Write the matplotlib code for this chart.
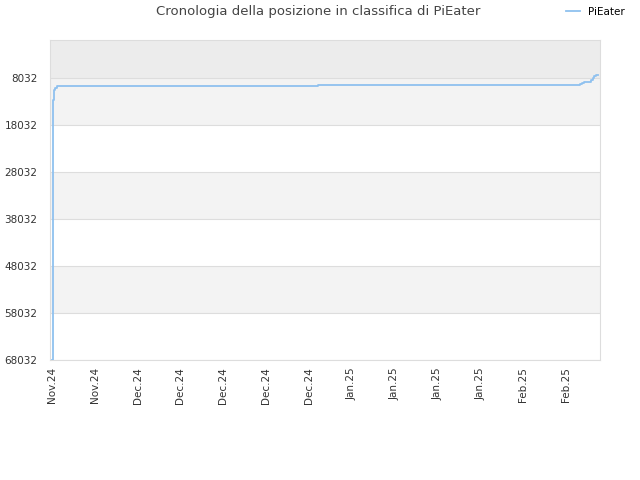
import matplotlib
matplotlib.use("Agg")
import matplotlib.pyplot as plt
import matplotlib.dates as mdates
import numpy as np
from datetime import datetime

# data (rank, lower is better)
dates = ["2024-11-17 00:00", "2024-11-17 04:00", "2024-11-17 08:00",
         "2024-11-17 12:00", "2024-11-17 19:00", "2024-12-30 12:00",
         "2025-02-11 07:00", "2025-02-11 14:00", "2025-02-11 22:00",
         "2025-02-13 02:00", "2025-02-13 10:00", "2025-02-13 14:00",
         "2025-02-13 22:00", "2025-02-14 05:00"]
ranks = [68032, 12700, 10600, 10100, 9700, 9420,
         9300, 9100, 8880, 8560, 8140, 7600, 7400, 7400]
yticks = [8032, 18032, 28032, 38032, 48032, 58032, 68032]
gray_bands = [(8032, 18032), (28032, 38032), (48032, 58032)]

x = [datetime.strptime(d, "%Y-%m-%d %H:%M") for d in dates]

fig = plt.figure(figsize=(6.4, 4.8), dpi=100)
ax = fig.add_axes([50/640, 120/480, 550/640, 320/480])

# background bands
ax.axhspan(-50, 8032, color="#ececec", zorder=0, lw=0)
for lo, hi in gray_bands:
    ax.axhspan(lo, hi, color="#f3f3f3", zorder=0, lw=0)

line, = ax.plot(x, ranks, drawstyle="steps-post", color="#8fc1ef", lw=1.3,
                label="PiEater", zorder=3)

ax.set_ylim(68032, -50)
ax.set_yticks(yticks)
ax.set_yticklabels([str(v) for v in yticks])
ax.yaxis.grid(True, color="#dddddd", lw=0.8)
ax.set_axisbelow(True)

ax.set_xlim(datetime(2024, 11, 16, 17), datetime(2025, 2, 14, 12))
ax.xaxis.set_major_locator(mdates.WeekdayLocator(byweekday=mdates.SU))
ax.xaxis.set_major_formatter(mdates.DateFormatter("%b.%y"))
plt.setp(ax.get_xticklabels(), rotation=90)

ax.tick_params(labelsize=7.5, colors="#333333", length=0)
ax.tick_params(axis="y", pad=9)
ax.tick_params(axis="x", pad=5)
for s in ax.spines.values():
    s.set_color("#dddddd")

fig.text(318/640, 1 - 12/480, "Cronologia della posizione in classifica di PiEater",
         ha="center", va="center", fontsize=9.5, color="#444444")
fig.legend(handles=[line], loc="center left", bbox_to_anchor=(557/640, 1 - 12/480),
           frameon=False, fontsize=7.5, handlelength=1.3, handletextpad=0.8)

fig.savefig("out.png", dpi=100)
